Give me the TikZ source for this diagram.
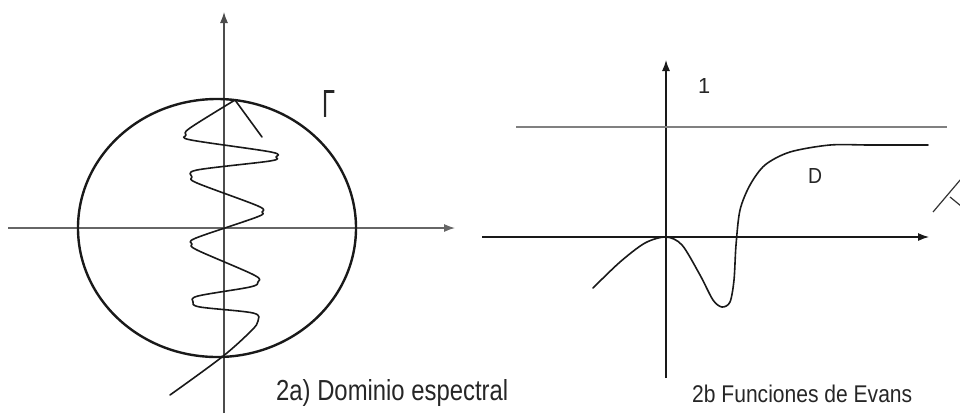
\documentclass[tikz,border=0pt]{standalone}
\usepackage{fontspec}
\setmainfont{Liberation Sans}
\usetikzlibrary{arrows.meta,shapes.geometric}
\begin{document}
\begin{tikzpicture}[x=1pt,y=-1pt,
  axis/.style={line width=1.2pt, draw=black!80, -{Latex[length=11pt,width=8pt]}},
  rim/.style={draw=black!90, line width=2.4pt, ellipse, inner sep=0pt, minimum width=278pt, minimum height=258pt},
  curveline/.style={draw=black!90, line width=1.6pt, line join=round, line cap=round},
  label/.style={inner sep=0pt, text=black!85, anchor=base west}
]
\useasboundingbox (0,0) rectangle (960,413);
% ---------- left panel ----------
\coordinate (lxl) at (8,228);
\coordinate (lxr) at (455,228);
\coordinate (lyb) at (224,413);
\coordinate (lyt) at (224,12);
\draw[axis, draw=black!60] (lxl) -- (lxr);
\draw[axis, draw=black!70] (lyb) -- (lyt);
\node[rim] (ell) at (217,228) {};
\draw[curveline] plot[smooth, tension=0.55] coordinates {
 (170,395) (222,357) (251,331) (258,321) (253,313) (200,307) (193,302) (198,296)
 (250,287) (258,282) (254,275) (197,250) (192,244) (196,238) (257,217) (262,212)
 (258,206) (197,183) (192,177) (197,170) (270,161) (276,157) (271,152) (191,140)
 (186,135) (190,128) (235,100)};
\coordinate (gs) at (235,100);
\coordinate (ge) at (262,137);
\draw[curveline] (gs) -- (ge);
\node[label] (gamma) at (322,117) {\resizebox{13pt}{27pt}{Γ}};
\node[label] (capa) at (276,400) {\resizebox{232pt}{21pt}{2a) Dominio espectral}};
% ---------- right panel ----------
\coordinate (rxl) at (482,237);
\coordinate (rxr) at (929,237);
\coordinate (ryb) at (666,378);
\coordinate (ryt) at (666,60);
\draw[axis, draw=black!90] (rxl) -- (rxr);
\draw[axis, draw=black!90] (ryb) -- (ryt);
\coordinate (ol) at (516,127);
\coordinate (or) at (947,127);
\draw[line width=1.6pt, draw=black!50] (ol) -- (or);
\draw[curveline] plot[smooth, tension=0.5] coordinates {
 (593,288) (620,262) (645,243) (666,237) (682,245) (700,275) (713,300) (722,307)
 (730,302) (734,280) (736,245) (740,210) (750,185) (765,165) (790,152) (830,145)
 (870,145) (928,145)};
\node[label] (one) at (698,93) {\resizebox{!}{15pt}{1}};
\node[label] (dlab) at (808,183) {\resizebox{14pt}{15pt}{D}};
\node[label] (capb) at (692,402) {\resizebox{220pt}{17.5pt}{2b Funciones de Evans}};
\coordinate (k1) at (933,212);
\coordinate (k2) at (961,179);
\coordinate (k3) at (950,197);
\coordinate (k4) at (961,206);
\draw[line width=1.2pt, draw=black!80] (k1) -- (k2);
\draw[line width=1.2pt, draw=black!80] (k3) -- (k4);
\end{tikzpicture}
\end{document}
